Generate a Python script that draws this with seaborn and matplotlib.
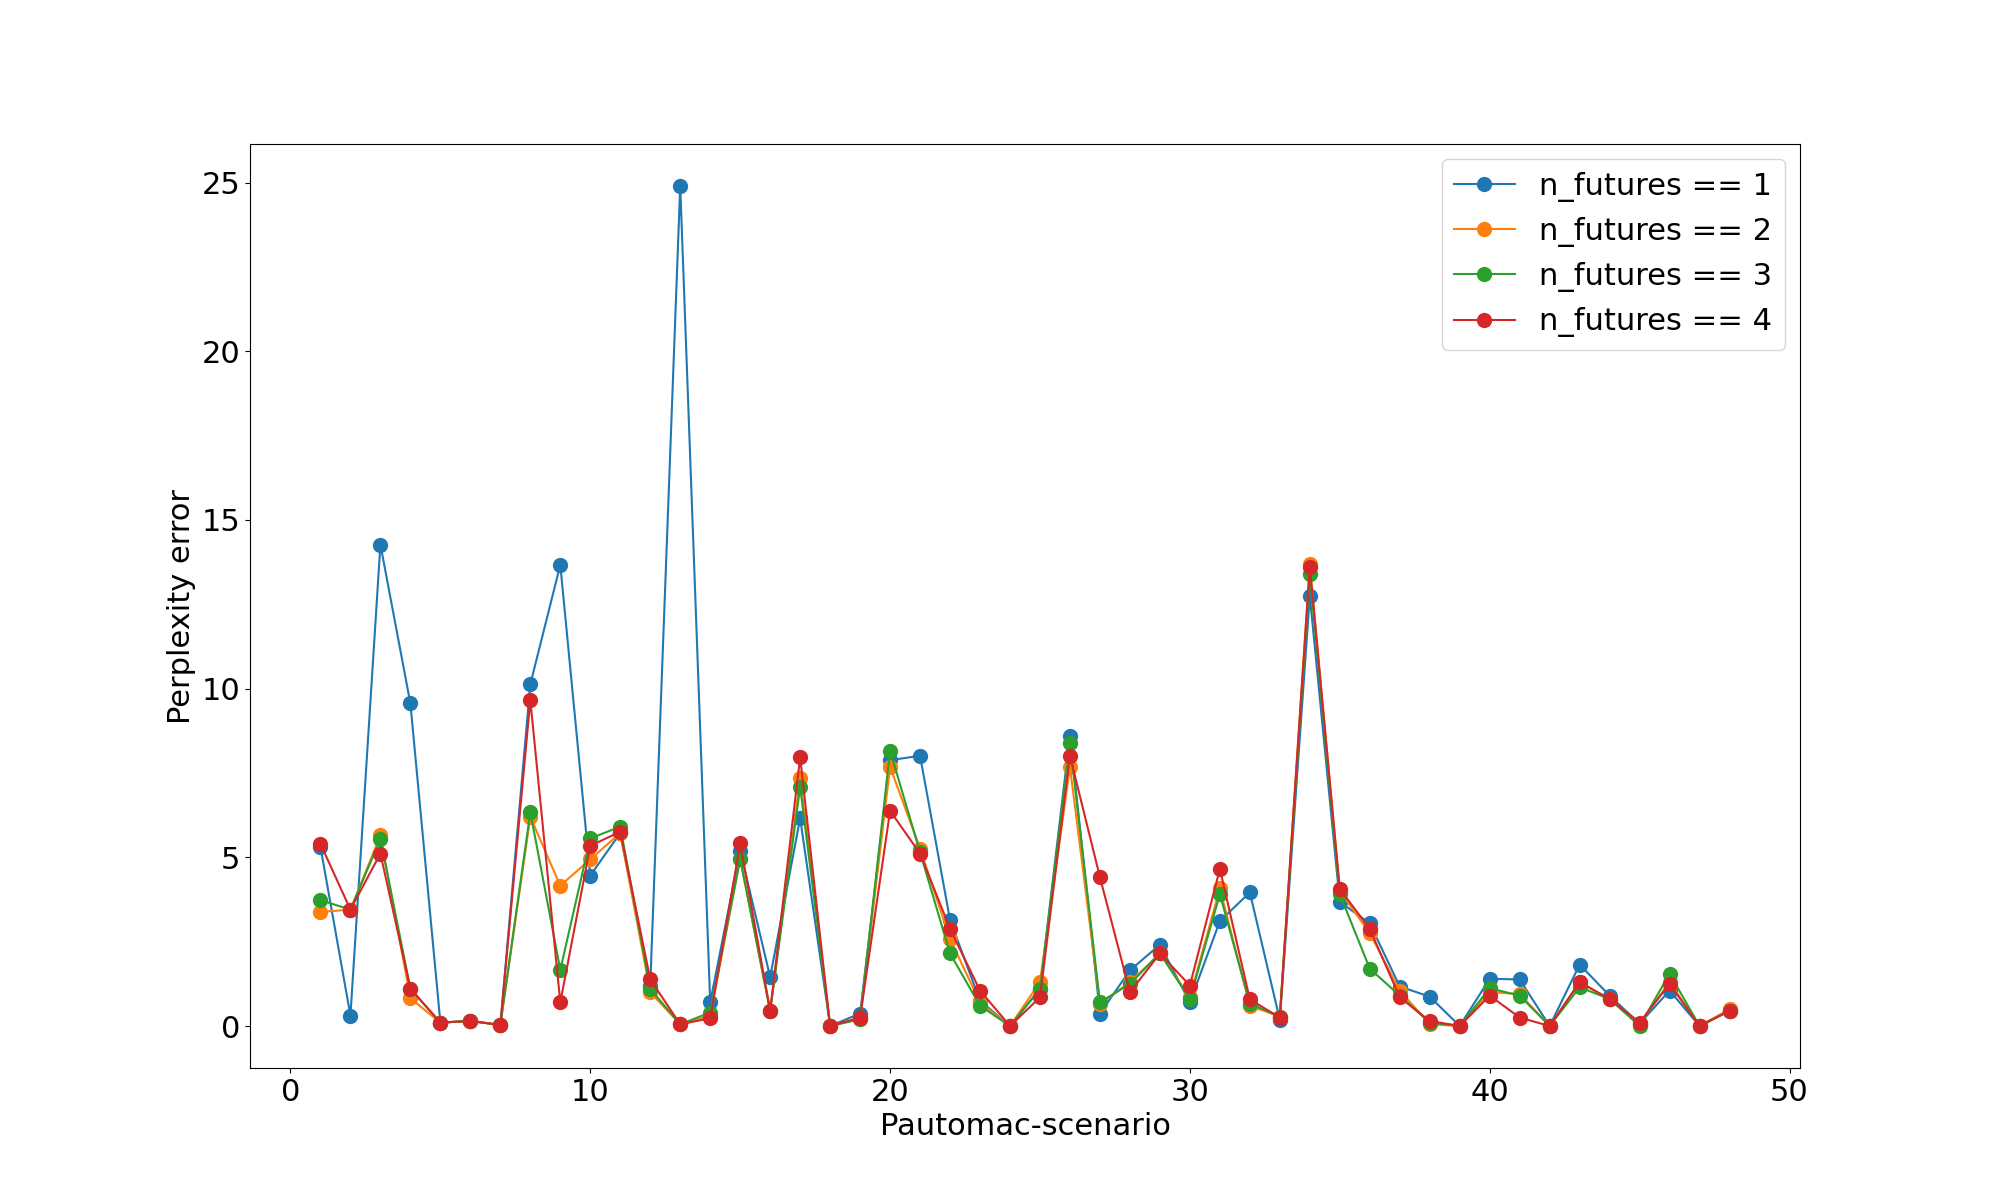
import matplotlib
matplotlib.use("Agg")
import matplotlib.pyplot as plt
import seaborn as sns
import pandas as pd

scenarios = list(range(1, 49))

nf1 = [5.31, 0.31, 14.27, 9.56, 0.10, 0.15, 0.03, 10.13, 13.67, 4.46,
       5.72, 1.20, 24.90, 0.70, 5.20, 1.45, 6.16, 0.00, 0.37, 7.88,
       8.01, 3.14, 0.75, 0.00, 1.10, 8.61, 0.37, 1.65, 2.41, 0.70,
       3.11, 3.96, 0.18, 12.75, 3.68, 3.04, 1.17, 0.87, 0.00, 1.40,
       1.38, 0.00, 1.82, 0.90, 0.07, 1.05, 0.00, 0.45]
nf2 = [3.38, 3.45, 5.65, 0.82, 0.10, 0.15, 0.03, 6.20, 4.16, 4.94,
       5.72, 1.00, 0.05, 0.30, 4.95, 0.45, 7.34, 0.00, 0.22, 7.68,
       5.26, 2.58, 0.70, 0.00, 1.30, 7.68, 0.65, 1.30, 2.15, 0.85,
       4.08, 0.60, 0.28, 13.69, 4.00, 2.75, 1.05, 0.05, 0.00, 1.00,
       0.95, 0.00, 1.30, 0.80, 0.07, 1.30, 0.00, 0.50]
nf3 = [3.73, 3.45, 5.55, 1.10, 0.10, 0.15, 0.03, 6.34, 1.66, 5.56,
       5.91, 1.10, 0.05, 0.40, 4.96, 0.45, 7.09, 0.00, 0.20, 8.16,
       5.15, 2.15, 0.60, 0.00, 1.10, 8.39, 0.70, 1.25, 2.15, 0.80,
       3.91, 0.66, 0.28, 13.39, 3.91, 1.70, 0.90, 0.10, 0.00, 1.12,
       0.90, 0.00, 1.15, 0.80, 0.00, 1.55, 0.00, 0.45]
nf4 = [5.40, 3.45, 5.11, 1.11, 0.10, 0.15, 0.03, 9.66, 0.70, 5.34,
       5.76, 1.38, 0.05, 0.23, 5.41, 0.45, 7.96, 0.00, 0.25, 6.38,
       5.11, 2.88, 1.05, 0.00, 0.85, 8.01, 4.41, 1.00, 2.15, 1.20,
       4.66, 0.79, 0.25, 13.62, 4.06, 2.88, 0.85, 0.15, 0.00, 0.90,
       0.25, 0.00, 1.30, 0.80, 0.10, 1.25, 0.00, 0.45]

labels = ["n_futures == 1", "n_futures == 2", "n_futures == 3", "n_futures == 4"]
colors = ["#1f77b4", "#ff7f0e", "#2ca02c", "#d62728"]

frames = []
for lab, vals in zip(labels, [nf1, nf2, nf3, nf4]):
    frames.append(pd.DataFrame({"scenario": scenarios, "error": vals, "series": lab}))
df = pd.concat(frames, ignore_index=True)

fig, ax = plt.subplots(figsize=(20, 12), dpi=100)
sns.lineplot(data=df, x="scenario", y="error", hue="series", hue_order=labels,
             palette=colors, marker="o", markersize=11, markeredgewidth=0,
             linewidth=1.5, legend=False, ax=ax, errorbar=None)

ax.set_xlabel("Pautomac-scenario", fontsize=22)
ax.set_ylabel("Perplexity error", fontsize=22)
ax.tick_params(axis="both", labelsize=22)
ax.set_xticks([0, 10, 20, 30, 40, 50])
ax.set_yticks([0, 5, 10, 15, 20, 25])

handles = ax.get_lines()[:4]
ax.legend(handles, labels, loc="upper right", fontsize=22)

fig.savefig("out.png", dpi=100)
